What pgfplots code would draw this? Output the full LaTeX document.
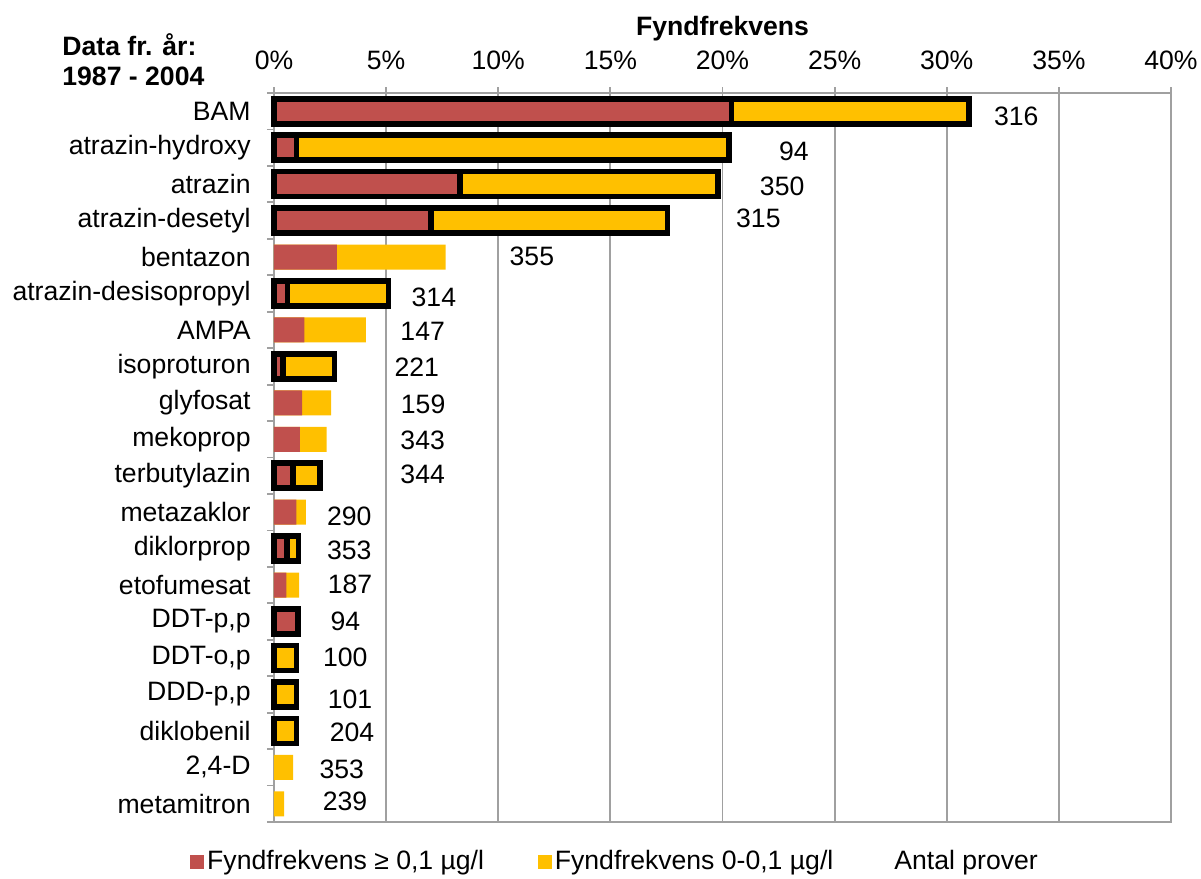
\documentclass[border=0pt]{standalone}
\usepackage{fontspec}
\setmainfont{Liberation Sans}
\usepackage{pgfplots}
\usepackage{pgfplotstable}
\pgfplotsset{compat=1.18}
\definecolor{cred}{RGB}{192,80,77}
\definecolor{cyel}{RGB}{255,192,0}
\definecolor{cgrid}{RGB}{160,160,160}

% plain (not outlined) bars: index, red, total
\pgfplotstableread{
y red total
4 2.8 7.65
6 1.35 4.1
8 1.25 2.55
9 1.15 2.35
11 1.0 1.42
13 0.55 1.12
}\plainbars
\pgfplotstableread{
y total
18 0.85
19 0.45
}\plainyel
% outlined bars
\pgfplotstableread{
y red total
0 20.4 31.0
1 1.0 20.3
2 8.3 19.8
3 7.0 17.55
5 0.6 5.1
7 0.4 2.7
10 0.85 2.05
12 0.57 1.1
14 1.08 1.08
}\outbars
\pgfplotstableread{
y total
15 1.0
16 1.0
17 1.0
}\outyel
% Antal prover labels
\pgfplotstableread{
x y n
33.1 0.15 316
23.18 1.11 94
22.66 2.05 350
21.6 2.93 315
11.5 3.99 355
7.13 5.10 314
6.63 6.05 147
6.37 7.01 221
6.65 8.03 159
6.63 9.02 343
6.63 9.95 344
3.36 11.12 290
3.36 12.04 353
3.39 12.97 187
3.18 13.99 94
3.18 14.97 100
3.39 16.13 101
3.48 17.03 204
3.02 18.05 353
3.17 18.92 239
}\labels

\begin{document}
\fontsize{13.3pt}{16pt}\selectfont
\begin{tikzpicture}
\useasboundingbox (0,0) rectangle (600.5pt,-439.5pt);
\begin{axis}[
  at={(137pt,-46.5pt)}, anchor=north west,
  width=448.5pt, height=364.5pt, scale only axis,
  xmin=0, xmax=40, ymin=-0.5, ymax=19.5, y dir=reverse,
  xtick={0,5,...,40},
  xticklabel pos=upper, xtick pos=upper,
  xticklabel={\pgfmathprintnumber{\tick}\%},
  /pgf/number format/assume math mode=true,
  xticklabel style={inner sep=0pt, yshift=8.5pt},
  xlabel={\bfseries Fyndfrekvens},
  xlabel style={inner sep=0pt, yshift=4.5pt},
  ytick={0,...,19}, ytick pos=left, yticklabel pos=left,
  yticklabels={BAM,atrazin-hydroxy,atrazin,atrazin-desetyl,bentazon,atrazin-desisopropyl,AMPA,isoproturon,glyfosat,mekoprop,terbutylazin,metazaklor,diklorprop,etofumesat,{DDT-p,p},{DDT-o,p},{DDD-p,p},diklobenil,{2,4-D},metamitron},
  yticklabel style={inner sep=0pt, xshift=-8.5pt},
  minor ytick={-0.5,0.5,...,19.5},
  tick align=outside,
  major tick length=3pt,
  y tick style={draw=none},
  minor y tick style={draw=cgrid, line width=0.9pt},
  minor tick length=3.5pt,
  x tick style={draw=cgrid, line width=0.9pt},
  xmajorgrids, major x grid style={draw=cgrid, line width=0.9pt},
  axis line style={draw=cgrid, line width=0.9pt},
  clip=false,
  legend style={draw=none, fill=none, at={(-0.0936,-0.055)}, anchor=west,
    legend columns=-1, inner sep=0pt,
    nodes={inner sep=1.5pt},
    /tikz/every odd column/.append style={column sep=0pt},
    /tikz/every even column/.append style={column sep=25.5pt}},
  legend cell align=left,
]
% legend images
\addlegendimage{legend image code/.code={\fill[cred] (0pt,-3.3pt) rectangle (6.5pt,3.3pt);}}
\addlegendentry{Fyndfrekvens ≥ 0,1 µg/l}
\addlegendimage{legend image code/.code={\fill[cyel] (0pt,-3.3pt) rectangle (6.5pt,3.3pt);}}
\addlegendentry{Fyndfrekvens 0-0,1 µg/l}
\addlegendimage{draw=none, fill=none, legend image code/.code={\path[draw=none, fill=none] (0pt,0pt) rectangle (2pt,1pt);}}
\addlegendentry{Antal prover}

% plain bars
\addplot[forget plot, xbar, bar shift=0pt, bar width=12.5pt, fill=cyel, draw=none] table[x=total, y=y] {\plainbars};
\addplot[forget plot, xbar, bar shift=0pt, bar width=12.5pt, fill=cyel, draw=none] table[x=total, y=y] {\plainyel};
\addplot[forget plot, xbar, bar shift=0pt, bar width=12.5pt, fill=cred, draw=none] table[x=red, y=y] {\plainbars};
% outlined bars
\addplot[forget plot, xbar, bar shift=0pt, bar width=12.5pt, fill=cyel, draw=black, line width=2.8pt] table[x=total, y=y] {\outbars};
\addplot[forget plot, xbar, bar shift=0pt, bar width=12.5pt, fill=cyel, draw=black, line width=2.8pt] table[x=total, y=y] {\outyel};
\addplot[forget plot, xbar, bar shift=0pt, bar width=12.5pt, fill=cred, draw=black, line width=2.8pt] table[x=red, y=y] {\outbars};
% sample counts
\addplot[forget plot, draw=none, mark=none, nodes near coords, point meta=explicit symbolic,
  every node near coord/.style={anchor=center, inner sep=0pt, black}] table[x=x, y=y, meta=n] {\labels};
\end{axis}
\node[anchor=west, align=left, font=\bfseries, inner sep=0pt] at (31pt,-30pt) {Data fr. år:\\[-1pt]1987 - 2004};
\end{tikzpicture}
\end{document}
